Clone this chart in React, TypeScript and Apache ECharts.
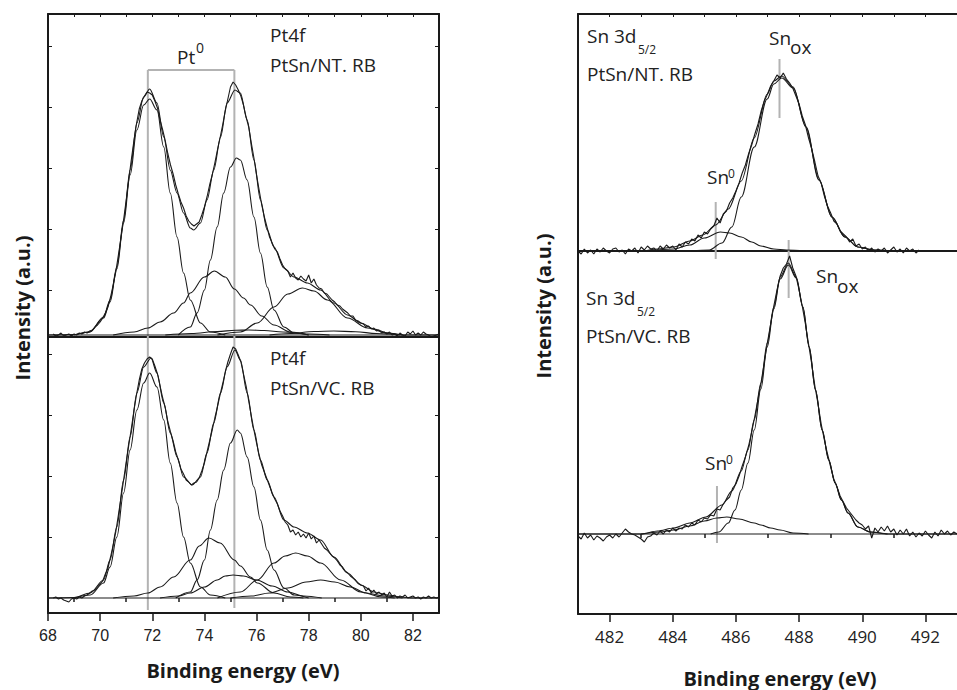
import React, { useEffect, useRef } from 'react';
import * as echarts from 'echarts';

// ---------- tick values ----------
const leftMajorTicks = [68, 70, 72, 74, 76, 78, 80, 82];
const leftMinorTicks = [69, 71, 73, 75, 77, 79, 81];
const leftTopTicks = [69, 70, 71, 72, 73, 74, 75, 76, 77, 78, 79, 80, 81, 82];
const rightMajorTicks = [482, 484, 486, 488, 490, 492];
const rightMinorTicks = [483, 485, 487, 489, 491];
const rightTopTicks = [482, 483, 484, 485, 486, 487, 488, 489, 490, 491, 492];
const tlYTicks = [45, 106, 167, 228, 289];
const blYTicks = [61, 122, 183, 244];

// ---------- Pt4f, PtSn/NT. RB (top left) ----------
const tlMeasuredFlat = [
  68.2,1, 68.3,-1, 68.4,0, 68.5,2, 68.6,-1, 68.7,0, 68.8,1, 68.9,-1, 69.0,1, 69.1,0, 69.2,2, 69.3,1, 69.4,3, 69.5,2,
  69.6,4, 69.7,5, 69.8,8, 69.9,10, 70.0,13, 70.1,17, 70.2,22, 70.3,28, 70.4,38, 70.5,50, 70.6,63, 70.7,80, 70.8,97,
  70.9,115, 71.0,135, 71.1,156, 71.2,176, 71.3,195, 71.4,212, 71.5,226, 71.6,234, 71.7,239, 71.8,243, 71.9,242,
  72.0,240, 72.1,234, 72.2,227, 72.3,215, 72.4,205, 72.5,194, 72.6,181, 72.7,170, 72.8,161, 72.9,150, 73.0,141,
  73.1,133, 73.2,127, 73.3,119, 73.4,114, 73.5,111, 73.6,109, 73.7,111, 73.8,113, 73.9,120, 74.0,128, 74.1,138,
  74.2,150, 74.3,160, 74.4,172, 74.5,185, 74.6,197, 74.7,210, 74.8,224, 74.9,236, 75.0,248, 75.1,253, 75.2,250,
  75.3,245, 75.4,239, 75.5,230, 75.6,218, 75.7,208, 75.8,192, 75.9,177, 76.0,160, 76.1,145, 76.2,130, 76.3,118,
  76.4,108, 76.5,98, 76.6,92, 76.7,86, 76.8,83, 76.9,76, 77.0,70, 77.1,66, 77.2,64, 77.3,58, 77.4,62, 77.5,57,
  77.6,55, 77.7,59, 77.8,56, 77.9,54, 78.0,60, 78.1,52, 78.2,56, 78.3,50, 78.4,47, 78.5,46, 78.6,42, 78.7,41,
  78.8,38, 78.9,35, 79.0,33, 79.1,30, 79.2,29, 79.3,26, 79.4,24, 79.5,22, 79.6,19, 79.7,19, 79.8,15, 79.9,14,
  80.0,12, 80.1,11, 80.2,8, 80.3,9, 80.4,6, 80.5,7, 80.6,4, 80.7,5, 80.8,2, 80.9,3, 81.0,1, 81.1,3, 81.2,0, 81.3,1,
  81.4,-1, 81.5,2, 81.6,0, 81.7,-1, 81.8,3, 81.9,1, 82.0,4, 82.1,0, 82.2,2, 82.3,0, 82.4,3, 82.5,1, 82.6,0, 82.7,-2,
  82.8,-1, 82.9,0, 83.0,1,
];
const tlEnvelope = [[68,0],[69,0.5],[69.6,3],[70.13,18],[70.38,35],[70.64,68],[70.9,115],[71.15,165],[71.41,212],[71.67,238],[71.9,246],[72.18,232],[72.44,198],[72.69,165],[72.95,142],[73.2,122],[73.46,107],[73.59,105],[73.85,112],[74.1,135],[74.36,165],[74.62,198],[74.87,232],[75.17,245],[75.38,242],[75.64,215],[75.9,175],[76.15,135],[76.41,105],[76.67,88],[77.05,67],[77.44,58],[77.95,52],[78.46,45],[78.97,32],[79.49,20],[80,12],[80.51,6],[81.03,2],[81.6,0],[83,0]];
const tlC1 = [[69,0],[69.6,3],[70.13,17],[70.38,33],[70.64,66],[70.9,112],[71.15,160],[71.41,205],[71.67,230],[71.9,236],[72.18,225],[72.44,188],[72.69,142],[72.95,98],[73.2,62],[73.46,35],[73.85,12],[74.23,3],[74.8,0]];
const tlC2 = [[73.0,0],[73.46,8],[73.72,22],[74,45],[74.23,75],[74.49,108],[74.74,142],[75,168],[75.23,177],[75.38,175],[75.64,155],[75.9,118],[76.15,82],[76.41,48],[76.67,25],[77.05,8],[77.44,2],[78,0]];
const tlC3 = [[70.5,0],[71.3,3],[71.83,7],[72.3,13],[72.82,22],[73.2,32],[73.46,42],[74,58],[74.38,64],[74.8,58],[75.15,46],[75.5,37],[75.77,30],[76.2,19],[76.67,10],[77.3,3],[78,0]];
const tlC4 = [[74.5,0],[75.38,3],[76.03,12],[76.67,28],[77.2,41],[77.76,47],[78.2,44],[78.72,35],[79.49,17],[80.26,7],[81,2],[81.6,0]];
const tlC5 = [[72.5,0],[73.5,1.5],[74.5,3.5],[75.2,4.8],[75.7,5],[76.3,4.5],[77,3],[78,1],[78.8,0]];
const tlC6 = [[76.5,0],[77.3,1.5],[78.2,3.5],[78.97,4],[79.8,3.2],[80.6,1.5],[81.5,0]];

// ---------- Pt4f, PtSn/VC. RB (bottom left) ----------
const blMeasuredFlat = [
  68.2,0, 68.3,1, 68.4,-1, 68.5,0, 68.6,-2, 68.7,-3, 68.8,-4, 68.9,-1, 69.0,0, 69.1,-1, 69.2,1, 69.3,0, 69.4,2,
  69.5,3, 69.6,5, 69.7,7, 69.8,8, 69.9,11, 70.0,14, 70.1,17, 70.2,24, 70.3,30, 70.4,41, 70.5,53, 70.6,66, 70.7,83,
  70.8,100, 70.9,118, 71.0,136, 71.1,153, 71.2,170, 71.3,188, 71.4,204, 71.5,218, 71.6,229, 71.7,235, 71.8,239,
  71.9,241, 72.0,239, 72.1,232, 72.2,224, 72.3,212, 72.4,200, 72.5,190, 72.6,176, 72.7,166, 72.8,157, 72.9,146,
  73.0,138, 73.1,129, 73.2,124, 73.3,118, 73.4,116, 73.5,113, 73.6,115, 73.7,116, 73.8,120, 73.9,127, 74.0,135,
  74.1,146, 74.2,157, 74.3,168, 74.4,180, 74.5,191, 74.6,203, 74.7,214, 74.8,226, 74.9,236, 75.0,244, 75.1,251,
  75.2,249, 75.3,243, 75.4,236, 75.5,224, 75.6,212, 75.7,197, 75.8,182, 75.9,168, 76.0,155, 76.1,143, 76.2,133,
  76.3,126, 76.4,119, 76.5,112, 76.6,105, 76.7,99, 76.8,94, 76.9,87, 77.0,82, 77.1,76, 77.2,73, 77.3,66, 77.4,68,
  77.5,63, 77.6,66, 77.7,61, 77.8,64, 77.9,60, 78.0,65, 78.1,59, 78.2,62, 78.3,55, 78.4,58, 78.5,54, 78.6,50,
  78.7,48, 78.8,45, 78.9,42, 79.0,40, 79.1,37, 79.2,33, 79.3,31, 79.4,27, 79.5,25, 79.6,22, 79.7,20, 79.8,18,
  79.9,15, 80.0,13, 80.1,12, 80.2,7, 80.3,10, 80.4,5, 80.5,8, 80.6,4, 80.7,6, 80.8,3, 80.9,5, 81.0,1, 81.1,6,
  81.2,2, 81.3,3, 81.4,0, 81.5,2, 81.6,1, 81.7,3, 81.8,0, 81.9,1, 82.0,2, 82.1,0, 82.2,1, 82.3,-1, 82.4,1, 82.5,0,
  82.6,2, 82.7,0, 82.8,1, 82.9,0, 83.0,1,
];
const blEnvelope = [[68,0],[69,0.5],[69.62,5],[70.13,18],[70.38,38],[70.64,71],[70.9,118],[71.15,161],[71.41,205],[71.67,231],[71.95,240],[72.18,225],[72.44,195],[72.69,165],[72.95,141],[73.2,121],[73.53,113],[73.85,121],[74.1,145],[74.36,175],[74.62,205],[74.87,231],[75.17,248],[75.38,238],[75.64,205],[75.9,168],[76.15,138],[76.41,118],[76.67,101],[77.05,78],[77.44,71],[77.95,65],[78.46,58],[78.97,41],[79.49,25],[80,13],[80.51,6],[81.03,3],[81.54,1],[82,0],[83,0]];
const blC1 = [[69,0],[69.62,3],[70.13,15],[70.38,31],[70.64,61],[70.9,105],[71.15,148],[71.41,188],[71.67,215],[71.9,225],[72.18,211],[72.44,178],[72.69,135],[72.95,95],[73.2,61],[73.46,35],[73.85,11],[74.23,3],[74.8,0]];
const blC2 = [[72.9,0],[73.46,6],[73.72,18],[74,38],[74.23,68],[74.49,98],[74.74,128],[75,155],[75.26,168],[75.38,165],[75.64,141],[75.9,111],[76.15,78],[76.41,48],[76.67,28],[77.05,10],[77.44,3],[78,0]];
const blC3 = [[70.5,0],[71.3,2],[71.83,5],[72.3,11],[72.82,21],[73.46,38],[73.8,52],[74.17,60],[74.6,55],[75.15,38],[75.38,32],[75.77,21],[76.03,15],[76.67,5],[77.3,1],[77.8,0]];
const blC4 = [[74.5,0],[75.38,6],[76.03,18],[76.67,35],[77.1,42],[77.5,45],[77.95,42],[78.46,35],[79.23,18],[80,6],[80.8,1],[81.3,0]];
const blC5 = [[72.3,0],[73,2],[73.46,5],[74,11],[74.49,18],[74.8,22],[75.1,23],[75.5,22],[76,18],[76.6,12],[77.2,6],[77.8,2],[78.5,0]];
const blC6 = [[75,0],[75.8,2],[76.5,5],[77.2,10],[77.9,16],[78.46,18],[79,16],[79.6,11],[80.2,5],[80.9,2],[81.6,0]];

// ---------- Sn 3d5/2, PtSn/NT. RB (top right) ----------
const trMeasuredFlat = [
  481.0,0, 481.1,-3, 481.2,2, 481.3,-2, 481.4,1, 481.5,-3, 481.6,2, 481.7,-1, 481.8,3, 481.9,0, 482.0,-2, 482.1,2,
  482.2,3, 482.3,-1, 482.4,1, 482.5,-3, 482.6,2, 482.7,0, 482.8,3, 482.9,-2, 483.0,4, 483.1,1, 483.2,5, 483.3,2,
  483.4,3, 483.5,0, 483.6,5, 483.7,2, 483.8,6, 483.9,3, 484.0,5, 484.1,1, 484.2,7, 484.3,4, 484.4,9, 484.5,7,
  484.6,12, 484.7,10, 484.8,16, 484.9,13, 485.0,19, 485.1,17, 485.2,22, 485.3,25, 485.4,33, 485.5,28, 485.6,37,
  485.7,40, 485.8,48, 485.9,53, 486.0,60, 486.1,68, 486.2,78, 486.3,86, 486.4,97, 486.5,106, 486.6,117, 486.7,127,
  486.8,140, 486.9,150, 487.0,157, 487.1,165, 487.2,170, 487.3,176, 487.4,173, 487.5,178, 487.6,172, 487.7,168,
  487.8,163, 487.9,155, 488.0,147, 488.1,135, 488.2,126, 488.3,113, 488.4,102, 488.5,89, 488.6,75, 488.7,68,
  488.8,55, 488.9,45, 489.0,38, 489.1,30, 489.2,27, 489.3,20, 489.4,17, 489.5,14, 489.6,9, 489.7,12, 489.8,5,
  489.9,7, 490.0,2, 490.1,4, 490.2,0, 490.3,3, 490.4,-1, 490.5,2, 490.6,0, 490.7,3, 490.8,-2, 490.9,1, 491.0,4,
  491.1,-1, 491.2,2, 491.3,-2, 491.4,3, 491.5,0, 491.6,2, 491.7,-2, 491.8,1,
];
const trEnvelope = [[481,0],[483,0],[483.52,2],[484.03,4],[484.54,10],[484.95,16],[485.36,26],[485.76,42],[486.17,70],[486.58,113],[486.99,157],[487.2,170],[487.45,175],[487.81,164],[488.22,124],[488.63,71],[489.04,34],[489.45,14],[489.86,4],[490.37,1],[491,0],[493,0]];
const trSnox = [[484.6,0],[485.15,1],[485.56,8],[485.87,24],[486.17,54],[486.58,104],[486.99,152],[487.2,167],[487.45,173],[487.81,163],[488.22,124],[488.63,71],[489.04,34],[489.45,14],[489.86,4],[490.37,1],[491,0]];
const trSn0 = [[483.2,0],[484.03,2],[484.54,6],[485,13],[485.51,19],[485.8,18],[486.17,14],[486.5,9],[486.79,5],[487.2,2],[487.6,1],[488.2,0]];

// ---------- Sn 3d5/2, PtSn/VC. RB (bottom right) ----------
const brMeasuredFlat = [
  481.0,-2, 481.1,-5, 481.2,1, 481.3,-4, 481.4,-1, 481.5,-6, 481.6,-2, 481.7,-4, 481.8,-7, 481.9,-3, 482.0,-1,
  482.1,-4, 482.2,0, 482.3,-3, 482.4,1, 482.5,5, 482.6,2, 482.7,0, 482.8,-1, 482.9,-3, 483.0,-5, 483.1,-8, 483.2,-3,
  483.3,-2, 483.4,1, 483.5,-1, 483.6,3, 483.7,0, 483.8,4, 483.9,2, 484.0,6, 484.1,3, 484.2,6, 484.3,5, 484.4,9,
  484.5,7, 484.6,11, 484.7,9, 484.8,14, 484.9,12, 485.0,16, 485.1,15, 485.2,19, 485.3,18, 485.4,25, 485.5,24,
  485.6,30, 485.7,34, 485.8,37, 485.9,46, 486.0,50, 486.1,58, 486.2,68, 486.3,77, 486.4,88, 486.5,102, 486.6,118,
  486.7,135, 486.8,152, 486.9,172, 487.0,192, 487.1,210, 487.2,228, 487.3,244, 487.4,258, 487.5,266, 487.6,270,
  487.7,278, 487.8,266, 487.9,258, 488.0,244, 488.1,228, 488.2,210, 488.3,190, 488.4,170, 488.5,148, 488.6,130,
  488.7,110, 488.8,94, 488.9,80, 489.0,67, 489.1,55, 489.2,47, 489.3,38, 489.4,32, 489.5,26, 489.6,22, 489.7,18,
  489.8,14, 489.9,11, 490.0,9, 490.1,5, 490.2,8, 490.3,-4, 490.4,6, 490.5,2, 490.6,7, 490.7,3, 490.8,8, 490.9,2,
  491.0,5, 491.1,-1, 491.2,4, 491.3,0, 491.4,5, 491.5,-2, 491.6,2, 491.7,-3, 491.8,1, 491.9,-2, 492.0,3, 492.1,-1,
  492.2,-4, 492.3,2, 492.4,-2, 492.5,4, 492.6,0, 492.7,3, 492.8,-1, 492.9,2, 493.0,0,
];
const brEnvelope = [[481,0],[483,0],[483.52,3],[484.03,6],[484.54,11],[485.05,17],[485.56,29],[485.87,43],[486.17,63],[486.38,84],[486.58,114],[486.79,151],[486.99,191],[487.2,227],[487.4,257],[487.66,271],[487.91,257],[488.12,227],[488.32,187],[488.52,144],[488.73,104],[488.94,74],[489.14,51],[489.34,34],[489.55,21],[489.86,7],[490.26,2],[490.8,0],[493,0]];
const brSnox = [[485.2,0],[485.46,2],[485.76,11],[485.97,24],[486.17,44],[486.38,71],[486.58,104],[486.79,145],[486.99,187],[487.2,225],[487.4,255],[487.66,269],[487.91,256],[488.12,227],[488.32,187],[488.52,144],[488.73,104],[488.94,74],[489.14,51],[489.34,34],[489.55,21],[489.86,7],[490.26,2],[490.8,0]];
const brSn0 = [[483,0],[483.6,2],[484.03,4],[484.54,8],[485,13],[485.4,16],[485.71,17],[486.1,15],[486.58,11],[486.79,9],[487.1,6],[487.4,4],[487.81,1],[488.3,0]];

// ---------- peak marker positions (eV) ----------
const ptPeakLines = [71.83, 75.15];
const trSnoxLine = 487.38;
const trSn0Line = 485.36;
const brSnoxLine = 487.67;
const brSn0Line = 485.4;

const LEFT_RANGE = [68, 83];
const RIGHT_RANGE = [481, 493];

const FONT = '"Open Sans", "Noto Sans", sans-serif';
const INK = '#1a1a1a';
const GRAY = '#b3b3b3';

const pairs = (flat: number[]) => {
  const out: number[][] = [];
  for (let i = 0; i < flat.length; i += 2) out.push([flat[i], flat[i + 1]]);
  return out;
};

const noAxisLine = { show: false };
const axisLineOn = { show: true, onZero: false, lineStyle: { color: INK, width: 2 } };

function xAxis(gridIndex: number, range: number[], extra: any = {}) {
  return {
    type: 'value', gridIndex, min: range[0], max: range[1],
    axisLine: axisLineOn, axisTick: { show: false }, axisLabel: { show: false },
    splitLine: { show: false }, ...extra,
  };
}
function yAxis(gridIndex: number, min: number, max: number, extra: any = {}) {
  return {
    type: 'value', gridIndex, min, max,
    axisLine: axisLineOn, axisTick: { show: false }, axisLabel: { show: false },
    splitLine: { show: false }, ...extra,
  };
}

function curve(data: number[][], xi: number, yi: number, smooth: number | boolean = 0.35, z = 3) {
  return {
    type: 'line', xAxisIndex: xi, yAxisIndex: yi, data, symbol: 'none', showSymbol: false,
    smooth, smoothMonotone: 'x', clip: false, silent: true, animation: false, z,
    lineStyle: { color: INK, width: 1.1 },
  };
}
function grayLine(data: number[][], xi: number, yi: number) {
  return {
    type: 'line', xAxisIndex: xi, yAxisIndex: yi, data, symbol: 'none', showSymbol: false,
    clip: false, silent: true, animation: false, z: 2,
    lineStyle: { color: GRAY, width: 2 },
  };
}

function txt(x: number, y: number, text: string, size: number, extra: any = {}) {
  return {
    type: 'text', x, y, silent: true,
    style: { text, fill: '#222', font: `${size}px ${FONT}`, textVerticalAlign: 'middle', ...extra },
  };
}
function title(x: number, y: number, text: string, rotated: boolean) {
  return {
    type: 'text', x, y, rotation: rotated ? Math.PI / 2 : 0, silent: true,
    style: { text, fill: '#1a1a1a', font: `bold 20px ${FONT}`, textAlign: 'center', textVerticalAlign: 'middle' },
  };
}

const option: any = {
  animation: false,
  backgroundColor: '#ffffff',
  grid: [
    { left: 48, top: 14, width: 391, height: 323 },
    { left: 48, top: 337, width: 391, height: 276 },
    { left: 578, top: 14, width: 391, height: 237 },
    { left: 578, top: 251, width: 391, height: 363 },
    { left: 48, top: 337, width: 391, height: 276 },
    { left: 578, top: 251, width: 391, height: 363 },
  ],
  xAxis: [
    xAxis(0, LEFT_RANGE, { position: 'bottom' }),
    xAxis(0, LEFT_RANGE, {
      position: 'top',
      axisTick: { show: true, inside: true, length: 3, customValues: leftTopTicks, lineStyle: { color: INK, width: 1 } },
    }),
    xAxis(1, LEFT_RANGE, {
      position: 'bottom',
      axisTick: { show: true, inside: false, length: 8, customValues: leftMajorTicks, lineStyle: { color: INK, width: 1.5 } },
      axisLabel: { show: true, customValues: leftMajorTicks, margin: 14, color: '#222', fontSize: 16, fontFamily: '"Liberation Sans", Arial, sans-serif' },
    }),
    xAxis(2, RIGHT_RANGE, { position: 'bottom' }),
    xAxis(2, RIGHT_RANGE, {
      position: 'top',
      axisTick: { show: true, inside: true, length: 3, customValues: rightTopTicks, lineStyle: { color: INK, width: 1 } },
    }),
    xAxis(3, RIGHT_RANGE, {
      position: 'bottom',
      axisTick: { show: true, inside: false, length: 8, customValues: rightMajorTicks, lineStyle: { color: INK, width: 1.5 } },
      axisLabel: { show: true, customValues: rightMajorTicks, margin: 14, color: '#222', fontSize: 17, fontFamily: FONT },
    }),
    xAxis(4, LEFT_RANGE, {
      position: 'bottom', axisLine: noAxisLine,
      axisTick: { show: true, inside: false, length: 4, customValues: leftMinorTicks, lineStyle: { color: INK, width: 1.5 } },
    }),
    xAxis(5, RIGHT_RANGE, {
      position: 'bottom', axisLine: noAxisLine,
      axisTick: { show: true, inside: false, length: 4, customValues: rightMinorTicks, lineStyle: { color: INK, width: 1.5 } },
    }),
  ],
  yAxis: [
    yAxis(0, -2, 321, { position: 'left', axisTick: { show: true, inside: true, length: 4, customValues: tlYTicks, lineStyle: { color: INK } } }),
    yAxis(0, -2, 321, { position: 'right', axisTick: { show: true, inside: true, length: 4, customValues: tlYTicks, lineStyle: { color: INK } } }),
    yAxis(1, -15, 261, { position: 'left', axisTick: { show: true, inside: true, length: 4, customValues: blYTicks, lineStyle: { color: INK } } }),
    yAxis(1, -15, 261, { position: 'right', axisTick: { show: true, inside: true, length: 4, customValues: blYTicks, lineStyle: { color: INK } } }),
    yAxis(2, 0, 237, { position: 'left' }),
    yAxis(3, -80, 283, { position: 'left' }),
    yAxis(4, -15, 261, { position: 'left', axisLine: noAxisLine }),
    yAxis(5, -80, 283, { position: 'left', axisLine: noAxisLine }),
  ],
  series: [
    // top left
    grayLine([[ptPeakLines[0], 265], [ptPeakLines[1], 265]], 0, 0),
    grayLine([[ptPeakLines[0], 265], [ptPeakLines[0], -2]], 0, 0),
    grayLine([[ptPeakLines[1], 265], [ptPeakLines[1], -2]], 0, 0),
    curve([[LEFT_RANGE[0], 0], [LEFT_RANGE[1], 0]], 0, 0, false),
    curve(tlC1, 0, 0), curve(tlC2, 0, 0), curve(tlC3, 0, 0),
    curve(tlC4, 0, 0), curve(tlC5, 0, 0), curve(tlC6, 0, 0),
    curve(tlEnvelope, 0, 0, 0.3),
    curve(pairs(tlMeasuredFlat), 0, 0, false),
    // bottom left
    grayLine([[ptPeakLines[0], 261], [ptPeakLines[0], -12]], 2, 2),
    grayLine([[ptPeakLines[1], 261], [ptPeakLines[1], -10]], 2, 2),
    curve([[LEFT_RANGE[0], 0], [LEFT_RANGE[1], 0]], 2, 2, false),
    curve(blC1, 2, 2), curve(blC2, 2, 2), curve(blC3, 2, 2),
    curve(blC4, 2, 2), curve(blC5, 2, 2), curve(blC6, 2, 2),
    curve(blEnvelope, 2, 2, 0.3),
    curve(pairs(blMeasuredFlat), 2, 2, false),
    // top right
    grayLine([[trSnoxLine, 192], [trSnoxLine, 133]], 3, 4),
    grayLine([[trSn0Line, 49], [trSn0Line, -8]], 3, 4),
    curve(trSn0, 3, 4), curve(trSnox, 3, 4),
    curve(trEnvelope, 3, 4, 0.3),
    curve(pairs(trMeasuredFlat), 3, 4, false),
    // bottom right
    grayLine([[brSnoxLine, 294], [brSnoxLine, 236]], 5, 5),
    grayLine([[brSn0Line, 48], [brSn0Line, -9]], 5, 5),
    curve([[RIGHT_RANGE[0], 0], [RIGHT_RANGE[1], 0]], 5, 5, false),
    curve(brSn0, 5, 5), curve(brSnox, 5, 5),
    curve(brEnvelope, 5, 5, 0.3),
    curve(pairs(brMeasuredFlat), 5, 5, false),
  ],
  graphic: [
    // left panel labels
    txt(270, 35, 'Pt4f', 19),
    txt(270, 65, 'PtSn/NT. RB', 19),
    txt(177, 57, 'Pt', 19),
    txt(196, 47, '0', 14),
    txt(270, 358, 'Pt4f', 19),
    txt(270, 388, 'PtSn/VC. RB', 19),
    // right panel labels
    txt(587, 36, 'Sn 3d', 19),
    txt(638, 49, '5/2', 12),
    txt(587, 74, 'PtSn/NT. RB', 19),
    txt(769, 38, 'Sn', 19),
    txt(790, 47, 'ox', 19),
    txt(707, 177, 'Sn', 19),
    txt(728, 173, '0', 12),
    txt(586, 298, 'Sn 3d', 19),
    txt(637, 311, '5/2', 12),
    txt(586, 336, 'PtSn/VC. RB', 19),
    txt(816, 276, 'Sn', 19),
    txt(837, 286, 'ox', 19),
    txt(705, 463, 'Sn', 19),
    txt(726, 459, '0', 12),
    // axis titles
    title(22, 308, 'Intensity (a.u.)', true),
    title(543, 306, 'Intensity (a.u.)', true),
    title(243, 670, 'Binding energy (eV)', false),
    title(780, 678, 'Binding energy (eV)', false),
  ],
};

export default function App() {
  const ref = useRef<HTMLDivElement>(null);
  useEffect(() => {
    if (!ref.current) return;
    const chart = echarts.init(ref.current, null, { renderer: 'svg' });
    chart.setOption(option);
    return () => chart.dispose();
  }, []);
  return (
    <div
      ref={ref}
      style={{ position: 'fixed', left: 0, top: 0, width: 957, height: 690, background: '#fff' }}
    />
  );
}
